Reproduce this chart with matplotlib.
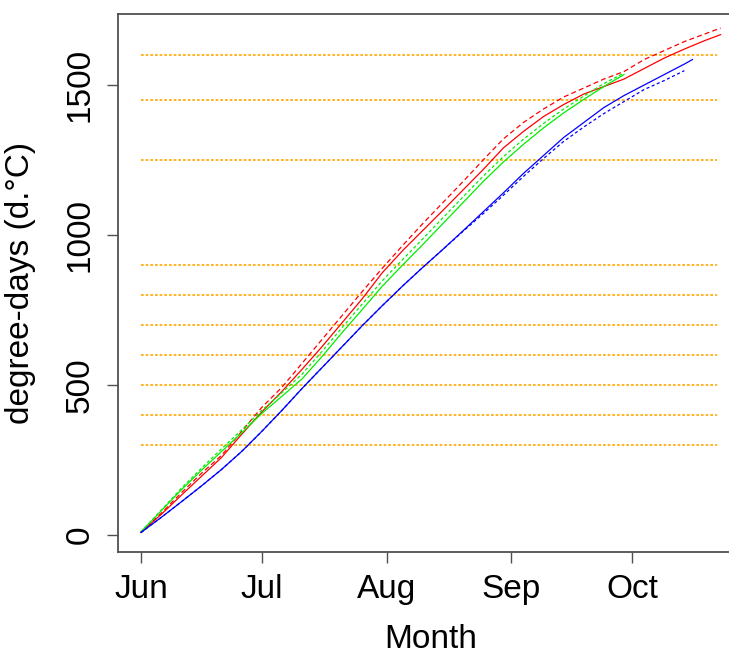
import matplotlib
matplotlib.use("Agg")
import matplotlib.pyplot as plt

plt.rcParams['font.family'] = ['Liberation Sans', 'DejaVu Sans']

# days since 1 June
days_red = [0, 5, 10, 15, 20, 25, 30, 35, 40, 45, 50, 55, 60, 65, 70, 75, 80, 85,
            90, 95, 100, 105, 110, 115, 120, 125, 130, 135, 140, 144]
red_solid = [8, 68, 132, 195, 258, 335, 410, 478, 552, 628, 708, 788, 875, 948,
             1015, 1082, 1150, 1218, 1290, 1345, 1395, 1435, 1470, 1495, 1520,
             1555, 1590, 1620, 1648, 1668]
red_dashed = [8, 72, 140, 205, 265, 345, 425, 492, 572, 652, 732, 812, 890, 965,
              1038, 1108, 1178, 1250, 1320, 1375, 1420, 1460, 1490, 1520, 1545,
              1585, 1615, 1645, 1670, 1690]

days_green = [0, 5, 10, 15, 20, 25, 30, 35, 40, 45, 50, 55, 60, 65, 70, 75, 80,
              85, 90, 95, 100, 105, 110, 115, 120]
green_solid = [10, 80, 150, 215, 278, 340, 405, 462, 520, 595, 675, 752, 830,
               900, 968, 1038, 1108, 1178, 1243, 1302, 1357, 1407, 1452, 1495, 1535]
green_dashed = [10, 82, 155, 222, 287, 350, 415, 474, 536, 612, 692, 770, 848,
                918, 987, 1057, 1127, 1196, 1261, 1319, 1372, 1420, 1463, 1505, 1540]

days_blue = [0, 5, 10, 15, 20, 25, 30, 35, 40, 45, 50, 55, 60, 65, 70, 75, 80,
             85, 90, 95, 100, 105, 110, 115, 120, 125, 130, 135, 137]
blue_solid = [8, 58, 110, 163, 218, 278, 345, 415, 488, 558, 628, 698, 765, 830,
              892, 952, 1014, 1077, 1140, 1205, 1265, 1325, 1375, 1425, 1465,
              1500, 1535, 1570, 1585]
days_blue2 = [0, 5, 10, 15, 20, 25, 30, 35, 40, 45, 50, 55, 60, 65, 70, 75, 80,
              85, 90, 95, 100, 105, 110, 115, 120, 125, 130, 135]
blue_dashed = [8, 58, 110, 163, 218, 278, 345, 415, 488, 558, 628, 698, 765, 830,
               892, 952, 1012, 1071, 1132, 1195, 1255, 1312, 1360, 1405, 1445,
               1485, 1515, 1548]

ref_levels = [300, 400, 500, 600, 700, 800, 900, 1250, 1450, 1600]
month_days = [0, 30, 61, 92, 122]
month_labels = ["Jun", "Jul", "Aug", "Sep", "Oct"]

fig = plt.figure(figsize=(7.29, 6.59), dpi=100)
ax = fig.add_axes([0.1616, 0.1624, 0.8587, 0.8164])

ax.hlines(ref_levels, 0, 143, colors="orange", linewidth=1.2,
          linestyles=(0, (1.6, 1.2)))

lw = 0.9
ax.plot(days_red, red_solid, color="red", lw=lw)
ax.plot(days_red, red_dashed, color="red", lw=lw, dashes=(4, 2.5))
ax.plot(days_green, green_solid, color="#00ee00", lw=lw)
ax.plot(days_green, green_dashed, color="#00ee00", lw=lw, dashes=(2.5, 2))
ax.plot(days_blue, blue_solid, color="blue", lw=lw)
ax.plot(days_blue2, blue_dashed, color="blue", lw=lw, dashes=(2.5, 2))

ax.set_xlim(-5.76, 149.76)
ax.set_ylim(-57, 1737)

ax.set_xticks(month_days)
ax.set_xticklabels(month_labels)
ax.set_yticks([0, 500, 1000, 1500])
ax.tick_params(axis="y", labelrotation=90)
for lab in ax.get_yticklabels():
    lab.set_va("center")

ax.tick_params(labelsize=24, length=8, width=1, color="#505050", pad=8)
for s in ax.spines.values():
    s.set_color("#505050")
    s.set_linewidth(1.3)

ax.set_xlabel("Month", fontsize=24)
ax.set_ylabel("degree-days (d.°C)", fontsize=24)
ax.xaxis.set_label_coords(0.5, -0.133)
ax.yaxis.set_label_coords(-0.13, 0.5)

fig.savefig("out.png", dpi=100)
